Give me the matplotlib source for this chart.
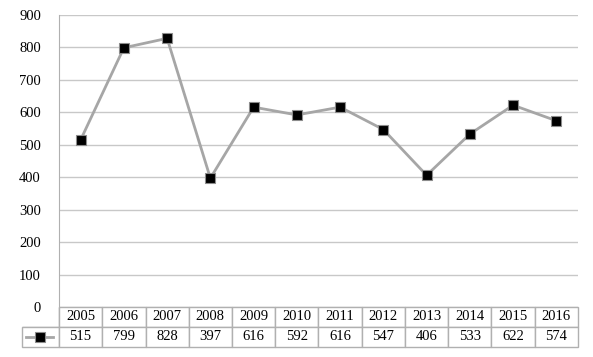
import matplotlib

matplotlib.use("Agg")
import matplotlib.pyplot as plt

years = ["2005", "2006", "2007", "2008", "2009", "2010",
         "2011", "2012", "2013", "2014", "2015", "2016"]
values = [515, 799, 828, 397, 616, 592, 616, 547, 406, 533, 622, 574]
y_ticks = list(range(0, 1000, 100))

LINE = "#a6a6a6"
GRID = "#c8c8c8"
EDGE = "#b0b0b0"

plt.rcParams["font.family"] = ["Liberation Serif", "DejaVu Serif"]

W, H = 593, 357
fig = plt.figure(figsize=(W / 100, H / 100), dpi=100)
left, right, top, bottom = 59, 578, 15, 307
ax = fig.add_axes([left / W, 1 - bottom / H, (right - left) / W, (bottom - top) / H])

x = list(range(len(years)))
ax.plot(x, values, color=LINE, lw=2, marker="s", ms=7.5,
        mfc="black", mec="#8c8c8c", mew=0.8, zorder=3)

ax.set_xlim(-0.5, len(years) - 0.5)
ax.set_ylim(0, 900)
ax.set_yticks(y_ticks)
ax.set_xticks([])
ax.grid(axis="y", color=GRID, lw=1)
ax.set_axisbelow(True)
for s in ("top", "right", "bottom"):
    ax.spines[s].set_visible(False)
ax.spines["left"].set_color(EDGE)
ax.tick_params(axis="y", length=0, pad=13, labelsize=10.5)

# data table below the plot
first_w = (left - 22) / (right - left)
rows = [[""] + years, [""] + [str(v) for v in values]]
tab = ax.table(cellText=rows, cellLoc="center",
               colWidths=[first_w] + [1 / len(years)] * len(years),
               bbox=[-first_w, -40 / (bottom - top), 1 + first_w, 40 / (bottom - top)])
tab.auto_set_font_size(False)
tab.set_fontsize(10.5)
for (r, c), cell in tab.get_celld().items():
    cell.set_edgecolor(EDGE)
    cell.set_linewidth(1)
    if r == 0 and c == 0:
        cell.visible_edges = "RB"

# legend key in the first column
ky = 1 - 337 / H
fig.add_artist(plt.Line2D([26 / W, 53 / W], [ky, ky], color=LINE, lw=2))
fig.add_artist(plt.Line2D([39.5 / W], [ky], marker="s", ms=7, mfc="black",
                          mec="#8c8c8c", mew=0.8, lw=0))

fig.savefig("out.png", dpi=100)
